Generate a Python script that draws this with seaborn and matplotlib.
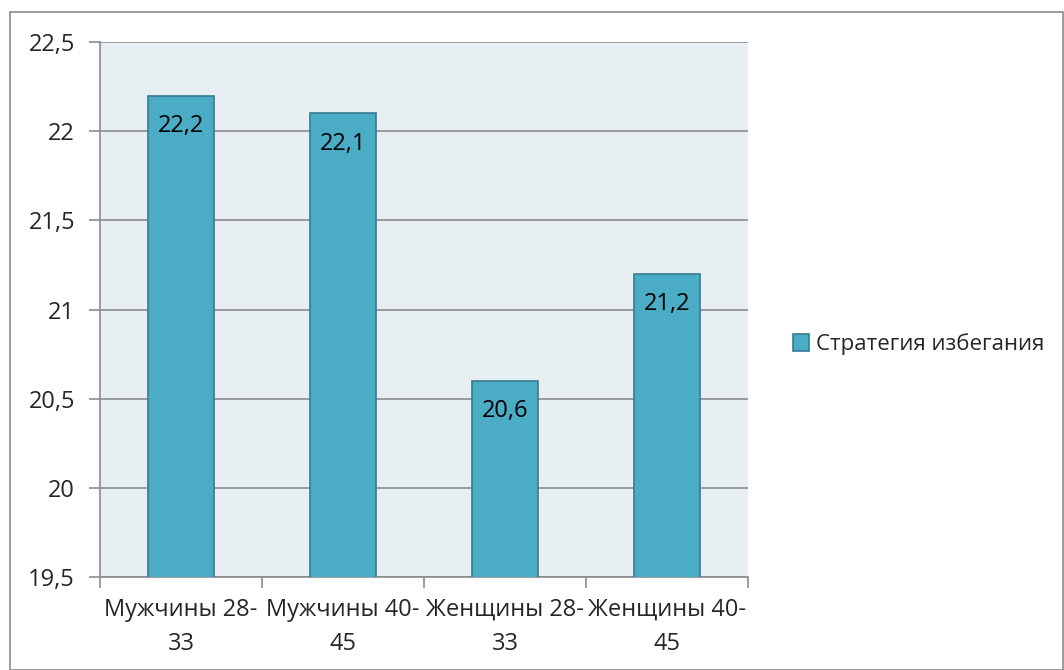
import pandas as pd
import seaborn as sns
import matplotlib.pyplot as plt
from matplotlib.patches import Rectangle
from matplotlib.ticker import FixedLocator

# Data
groups = ['Мужчины 28-\n33', 'Мужчины 40-\n45', 'Женщины 28-\n33', 'Женщины 40-\n45']
values = [22.2, 22.1, 20.6, 21.2]
series_name = 'Стратегия избегания'
y_ticks = [19.5, 20, 20.5, 21, 21.5, 22, 22.5]

df = pd.DataFrame({'group': groups, 'value': values, 'series': series_name})

sns.set_style('white')
plt.rcParams['font.family'] = ['Open Sans', 'DejaVu Sans']

fig = plt.figure(figsize=(10.64, 6.70), dpi=100)
ax = fig.add_axes([100 / 1064, 1 - 577 / 670, 648 / 1064, 535 / 670])
ax.set_facecolor('#E8EFF3')

sns.barplot(data=df, x='group', y='value', hue='series', ax=ax,
            palette=['#4BACC6'], edgecolor='#357D91', linewidth=1.2,
            width=0.41, saturation=1, zorder=3)

ax.set_ylim(19.5, 22.5)
ax.set_xlim(-0.5, 3.5)
ax.yaxis.set_major_locator(FixedLocator(y_ticks))
ax.set_yticklabels([f'{t:g}'.replace('.', ',') for t in y_ticks])
ax.grid(axis='y', color='#8C8C8C', linewidth=1.2, zorder=0)
ax.set_axisbelow(True)

# value labels inside top of bars
for i, v in enumerate(values):
    ax.annotate(f'{v:g}'.replace('.', ','), (i, v), xytext=(0, -22),
                textcoords='offset points', ha='center', va='center',
                fontsize=17, color='black', zorder=5)

for s in ['top', 'right']:
    ax.spines[s].set_visible(False)
for s in ['left', 'bottom']:
    ax.spines[s].set_color('#8C8C8C')
    ax.spines[s].set_linewidth(1.2)

ax.tick_params(axis='y', which='major', length=8, color='#8C8C8C', width=1.2,
               labelsize=17, pad=10, left=True)
ax.tick_params(axis='x', which='major', length=0, labelsize=17, pad=15)
ax.xaxis.set_minor_locator(FixedLocator([-0.5, 0.5, 1.5, 2.5, 3.5]))
ax.tick_params(axis='x', which='minor', length=8, color='#8C8C8C', width=1.2,
               bottom=True)
for lbl in ax.get_xticklabels():
    lbl.set_linespacing(1.55)
ax.set_xlabel('')
ax.set_ylabel('')

leg = ax.legend(loc='center left', bbox_to_anchor=(1.055, 0.435), frameon=False,
                fontsize=16, handlelength=0.75, handleheight=0.75,
                handletextpad=0.3, borderaxespad=0)

# outer chart border
fig.patches.append(Rectangle((10 / 1064, 0), 1053 / 1064, 658 / 670,
                             transform=fig.transFigure, fill=False,
                             edgecolor='#8C8C8C', linewidth=1.2))

fig.savefig('out.png', dpi=100)
